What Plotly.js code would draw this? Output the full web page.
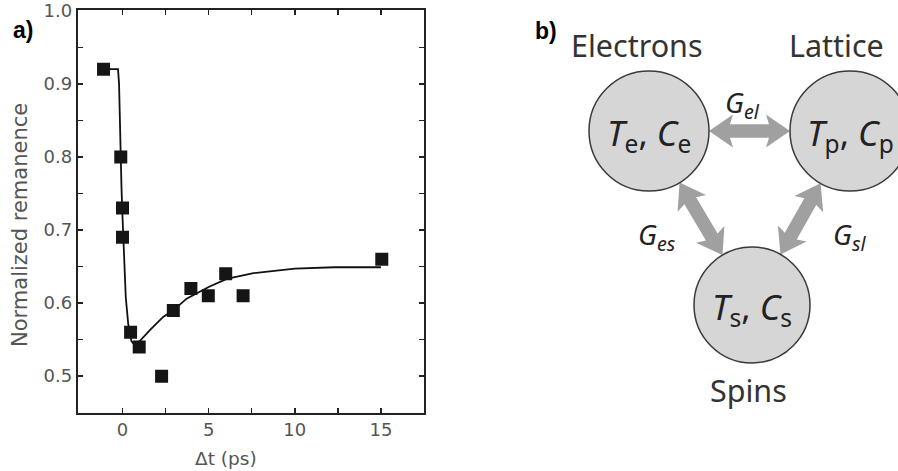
<!DOCTYPE html>
<html><head><meta charset="utf-8">
<script src="https://cdn.plot.ly/plotly-3.0.1.min.js"></script>
<style>html,body{margin:0;padding:0;background:#fff}#chart{width:898px;height:471px}</style>
</head><body><div id="chart"></div>
<script>
// ---- panel a) data ----
const delayPs    = [-1.1, -0.1, 0.0, 0.0, 0.47, 0.97, 2.27, 2.95, 3.97, 4.98, 5.99, 7.0, 15.05];
const remanence  = [0.92, 0.80, 0.73, 0.69, 0.56, 0.54, 0.50, 0.59, 0.62, 0.61, 0.64, 0.61, 0.66];
const fitDelay   = [-1.1, -0.26, -0.2, -0.13, -0.06, -0.02, 0.04, 0.1, 0.19, 0.33, 0.52, 0.62, 0.8, 1.0, 1.59, 2.36, 2.95, 3.72, 5.0, 6.05, 7.6, 10.0, 12.3, 15.0];
const fitRemanence = [0.92, 0.92, 0.90, 0.80, 0.76, 0.73, 0.69, 0.65, 0.608, 0.572, 0.548, 0.545, 0.545, 0.548, 0.563, 0.581, 0.59, 0.606, 0.622, 0.633, 0.641, 0.647, 0.649, 0.649];
const xTicks = [0, 5, 10, 15];
const xMinorTicks = [2.5, 7.5, 12.5];
const yTicks = [0.5, 0.6, 0.7, 0.8, 0.9, 1.0];
const yMinorTicks = [0.55, 0.65, 0.75, 0.85, 0.95];
const xTitle = 'Δt (ps)';
const yTitle = 'Normalized remanence';

// ---- panel b) diagram ----
const nodeNames  = ['Electrons', 'Lattice', 'Spins'];
const nodeLabels = ['<i>T</i><sub>e</sub>, <i>C</i><sub>e</sub>', '<i>T</i><sub>p</sub>, <i>C</i><sub>p</sub>', '<i>T</i><sub>s</sub>, <i>C</i><sub>s</sub>'];
const nodeX = [649, 850, 752];
const nodeY = [131, 131, 305];
const nodeR = [60, 60, 58];
const nameX = [637, 836, 748];
const nameY = [45, 45, 390];
const edges = [[0, 1], [0, 2], [1, 2]];
const couplingLabels = ['<i>G<sub>el</sub></i>', '<i>G<sub>es</sub></i>', '<i>G<sub>sl</sub></i>'];
const couplingX = [742, 657, 849];
const couplingY = [104, 236, 236];

const W = 898, H = 471;
const px = v => v / W, py = v => 1 - v / H;

const shapes = [];
// arrows (drawn first, under circles)
edges.forEach(([i, j]) => {
  const dx = nodeX[j] - nodeX[i], dy = nodeY[j] - nodeY[i];
  const len = Math.hypot(dx, dy), ux = dx / len, uy = dy / len, nx = -uy, ny = ux;
  const A = [nodeX[i] + ux * nodeR[i], nodeY[i] + uy * nodeR[i]];
  const B = [nodeX[j] - ux * nodeR[j], nodeY[j] - uy * nodeR[j]];
  const w = 6.8, h = 16.5, L = 24;
  const p = (P, a, b) => [P[0] + ux * a + nx * b, P[1] + uy * a + ny * b];
  const pts = [A, p(A, L, h), p(A, L - 3, w), p(B, -L + 3, w), p(B, -L, h), B, p(B, -L, -h), p(B, -L + 3, -w), p(A, L - 3, -w), p(A, L, -h)];
  shapes.push({type: 'path', xref: 'x2', yref: 'y2', path: 'M' + pts.map(q => q[0].toFixed(1) + ',' + q[1].toFixed(1)).join(' L') + ' Z',
    fillcolor: '#a0a0a0', line: {width: 0}});
});
nodeX.forEach((x, k) => {
  shapes.push({type: 'circle', xref: 'x2', yref: 'y2', x0: x - nodeR[k], x1: x + nodeR[k], y0: nodeY[k] - nodeR[k], y1: nodeY[k] + nodeR[k],
    fillcolor: '#d6d6d6', line: {color: '#3a3a3a', width: 1.5}});
});

const diagFont = 'Noto Sans, Open Sans, sans-serif';
const axFamily = 'DejaVu Sans, sans-serif';
const C = {showarrow: false, xanchor: 'center', yanchor: 'middle'};
const annotations = [
  Object.assign({text: '<b>a)</b>', xref: 'paper', yref: 'paper', x: px(22.5), y: py(30), font: {family: 'Liberation Sans, Arial', size: 23, color: '#000'}}, C),
  Object.assign({text: '<b>b)</b>', xref: 'paper', yref: 'paper', x: px(546), y: py(31), font: {family: 'Liberation Sans, Arial', size: 23, color: '#000'}}, C),
  Object.assign({text: xTitle, xref: 'paper', yref: 'paper', x: px(226), y: py(458), font: {family: axFamily, size: 18.5, color: '#555'}}, C),
  Object.assign({text: yTitle, xref: 'paper', yref: 'paper', x: px(20), y: py(225), textangle: -90, font: {family: axFamily, size: 21, color: '#555'}}, C)
];
nodeNames.forEach((n, k) => annotations.push(Object.assign({text: n, xref: 'x2', yref: 'y2', x: nameX[k], y: nameY[k], font: {family: diagFont, size: 30.5, color: '#333'}}, C)));
nodeLabels.forEach((n, k) => annotations.push(Object.assign({text: n, xref: 'x2', yref: 'y2', x: nodeX[k], y: nodeY[k] + 3, font: {family: diagFont, size: 35, color: '#222'}}, C)));
couplingLabels.forEach((n, k) => annotations.push(Object.assign({text: n, xref: 'x2', yref: 'y2', x: couplingX[k], y: couplingY[k], font: {family: diagFont, size: 28, color: '#222'}}, C)));

const axFont = {family: axFamily, size: 18, color: '#555'};
const axCommon = {showline: true, linewidth: 2, linecolor: '#222', mirror: 'allticks', ticks: 'inside', ticklen: 5, tickwidth: 1.5, tickcolor: '#222',
  showgrid: false, zeroline: false, tickfont: axFont, automargin: false};

const traces = [
  {x: fitDelay, y: fitRemanence, mode: 'lines', line: {color: '#111', width: 1.8}, xaxis: 'x', yaxis: 'y', hoverinfo: 'skip'},
  {x: delayPs, y: remanence, mode: 'markers', marker: {symbol: 'square', size: 13, color: '#151515'}, xaxis: 'x', yaxis: 'y'}
];

const layout = {
  width: W, height: H, margin: {l: 0, r: 0, t: 0, b: 0}, showlegend: false,
  paper_bgcolor: '#fff', plot_bgcolor: '#fff',
  xaxis: Object.assign({}, axCommon, {domain: [px(77.7), px(424)], range: [-2.6, 17.5], tickvals: xTicks, ticktext: xTicks.map(String),
    minor: {tickvals: xMinorTicks, ticks: 'inside', ticklen: 5, tickwidth: 1.5, tickcolor: '#222'}, anchor: 'y'}),
  yaxis: Object.assign({}, axCommon, {domain: [py(412.7), py(10)], range: [0.45, 1.001], tickvals: yTicks, ticktext: yTicks.map(v => v.toFixed(1)),
    minor: {tickvals: yMinorTicks, ticks: 'inside', ticklen: 5, tickwidth: 1.5, tickcolor: '#222'}, anchor: 'x'}),
  xaxis2: {domain: [0.5, 1], range: [449, 898], visible: false, anchor: 'y2', fixedrange: true},
  yaxis2: {domain: [0, 1], range: [471, 0], visible: false, anchor: 'x2', fixedrange: true},
  shapes: shapes, annotations: annotations
};
Plotly.newPlot('chart', traces, layout, {displayModeBar: false, staticPlot: true});
</script></body></html>
